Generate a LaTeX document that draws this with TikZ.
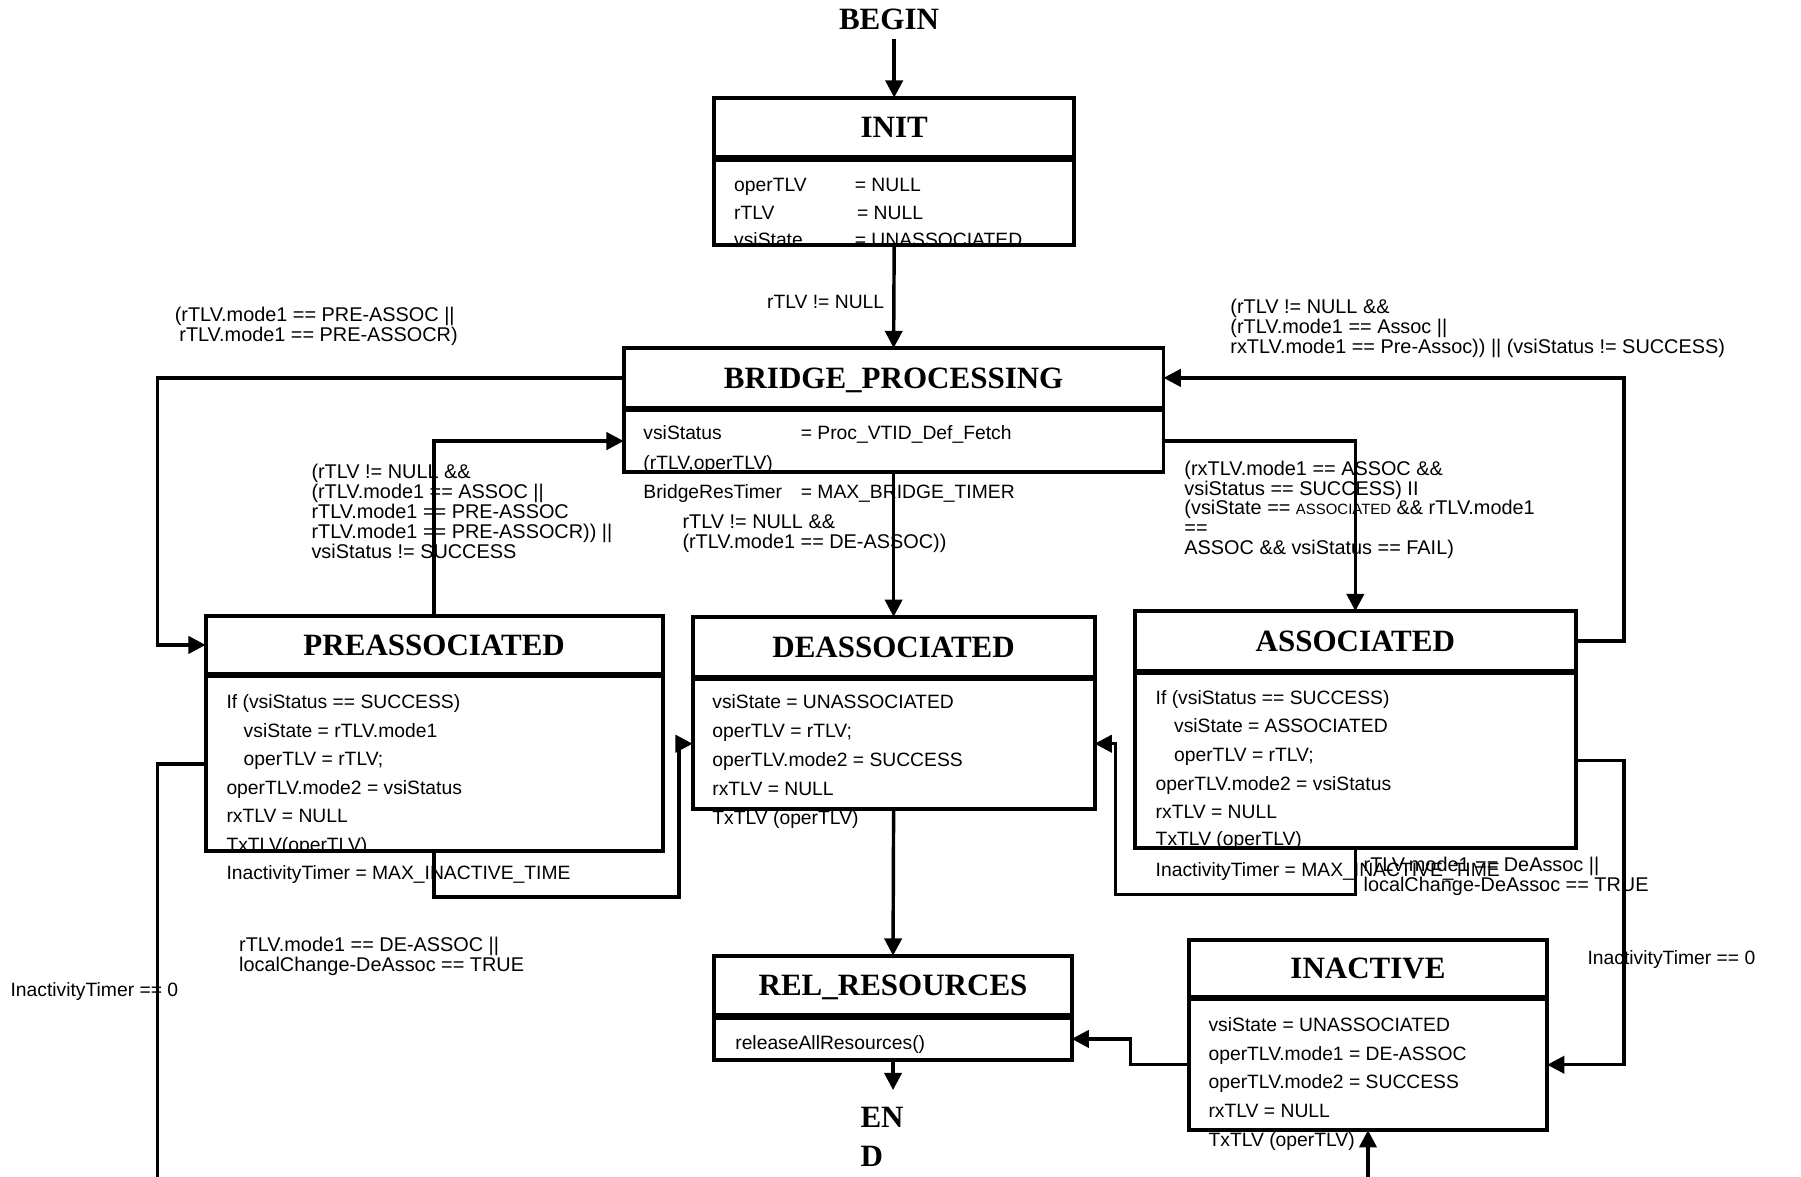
\documentclass[tikz,border=0pt]{standalone}
\usepackage{fontspec}
\setmainfont{Liberation Sans}
\newfontfamily\titfont{Liberation Serif}
\usetikzlibrary{arrows.meta}

\tikzset{
  caja/.style={draw, line width=3.4pt, inner sep=0pt, outer sep=0pt, anchor=north west},
  titulo/.style={caja, font=\titfont\bfseries\fontsize{27}{30}\selectfont, text height=18pt, text depth=0pt},
  txt/.style={anchor=base west, inner sep=0pt, font=\fontsize{16.8}{17.3}\selectfont},
  etiq/.style={anchor=north west, inner sep=0pt, align=left, font=\fontsize{17.3}{17.3}\selectfont},
  flecha/.style={line width=3pt, -{Triangle[length=15pt,width=15pt]}},
}

\begin{document}
\begin{tikzpicture}[x=1pt, y=-1pt]
  \useasboundingbox (0,0) rectangle (1568,1024);
  \clip (0,0) rectangle (1568,1024);

  % Inicio y fin
  \node[font=\titfont\bfseries\fontsize{27}{30}\selectfont, inner xsep=0pt, inner ysep=8pt, text height=18pt, text depth=0pt] (begin) at (774,17) {BEGIN};
  \node[font=\titfont\bfseries\fontsize{27}{34}\selectfont, inner xsep=0pt, inner ysep=15pt, anchor=north west, align=left] (end) at (749,949) {EN\\D};

  % INIT
  \node[titulo, minimum width=313pt, minimum height=52pt] (init-t) at (622,85) {INIT};
  \node[caja, minimum width=313pt, minimum height=74pt] (init-b) at (622,139) {};
  \node[txt] (init-r1) at (639,167) {operTLV};
  \node[txt] (init-v1) at (744,167) {= NULL};
  \node[txt] (init-r2) at (639,191) {rTLV};
  \node[txt] (init-v2) at (746,191) {= NULL};
  \begin{scope}
    \clip (init-b.north west) rectangle (init-b.south east);
    \node[txt] (init-r3) at (639,215) {vsiState};
    \node[txt] (init-v3) at (744,215) {= UNASSOCIATED};
  \end{scope}

  % BRIDGE_PROCESSING
  \node[titulo, minimum width=470pt, minimum height=52pt] (bp-t) at (543,303) {BRIDGE\_PROCESSING};
  \node[caja, minimum width=470pt, minimum height=54pt] (bp-b) at (543,357) {};
  \node[txt] (bp-r1) at (560,383) {vsiStatus};
  \node[txt] (bp-v1) at (697,383) {= Proc\_VTID\_Def\_Fetch};
  \node[txt] (bp-r2) at (560,409) {(rTLV,operTLV)};
  \node[txt] (bp-r3) at (560,434) {BridgeResTimer};
  \node[txt] (bp-v3) at (697,434) {= MAX\_BRIDGE\_TIMER};

  % PREASSOCIATED
  \node[titulo, minimum width=398pt, minimum height=51pt] (pre-t) at (179,536) {PREASSOCIATED};
  \node[caja, minimum width=398pt, minimum height=152pt] (pre-b) at (179,589) {};
  \foreach \t [count=\i from 0] in {If (vsiStatus == SUCCESS), \hspace*{15pt}vsiState = rTLV.mode1, \hspace*{15pt}operTLV = rTLV;, operTLV.mode2 = vsiStatus, rxTLV = NULL}
    \node[txt] (pre-r\i) at (197,617+24.8*\i) {\t};
  \begin{scope}
    \clip (pre-b.north west) rectangle (pre-b.south east);
    \node[txt] (pre-r5) at (197,741) {TxTLV(operTLV)};
  \end{scope}
  \node[txt] (pre-r6) at (197,766) {InactivityTimer = MAX\_INACTIVE\_TIME};

  % DEASSOCIATED
  \node[titulo, minimum width=350pt, minimum height=52pt] (de-t) at (603,537) {DEASSOCIATED};
  \node[caja, minimum width=350pt, minimum height=113pt] (de-b) at (603,591) {};
  \foreach \t [count=\i from 0] in {vsiState = UNASSOCIATED, operTLV = rTLV;, operTLV.mode2 = SUCCESS, rxTLV = NULL, TxTLV (operTLV)}
    \node[txt] (de-r\i) at (620,617+25.2*\i) {\t};

  % ASSOCIATED
  \node[titulo, minimum width=384pt, minimum height=52pt] (as-t) at (988,532) {ASSOCIATED};
  \node[caja, minimum width=384pt, minimum height=152pt] (as-b) at (988,586) {};
  \foreach \t [count=\i from 0] in {If (vsiStatus == SUCCESS), \hspace*{16pt}vsiState = ASSOCIATED, \hspace*{16pt}operTLV = rTLV;, operTLV.mode2 = vsiStatus, rxTLV = NULL}
    \node[txt] (as-r\i) at (1006,613+25*\i) {\t};
  \begin{scope}
    \clip (as-b.north west) rectangle (as-b.south east);
    \node[txt] (as-r5) at (1006,736) {TxTLV (operTLV)};
  \end{scope}
  \node[txt] (as-r6) at (1006,763) {InactivityTimer = MAX\_INACTIVE\_TIME};

  % REL_RESOURCES
  \node[titulo, minimum width=311pt, minimum height=52pt] (rel-t) at (622,832) {REL\_RESOURCES};
  \node[caja, minimum width=311pt, minimum height=37pt] (rel-b) at (622,886) {};
  \node[txt] (rel-r0) at (640,914) {releaseAllResources()};

  % INACTIVE
  \node[titulo, minimum width=312pt, minimum height=50pt] (in-t) at (1035,818) {INACTIVE};
  \node[caja, minimum width=312pt, minimum height=114pt] (in-b) at (1035,870) {};
  \foreach \t [count=\i from 0] in {vsiState = UNASSOCIATED, operTLV.mode1 = DE-ASSOC, operTLV.mode2 = SUCCESS, rxTLV = NULL, TxTLV (operTLV)}
    \node[txt] (in-r\i) at (1052,898+25*\i) {\t};

  % Transiciones
  \draw[flecha] (begin.south -| init-t.north) -- (init-t.north);
  \draw[flecha] (init-b.south) -- (bp-t.north);
  \draw[flecha] (bp-t.west) -| ([xshift=-42pt]pre-t.west) -- (pre-t.west);
  \draw[flecha] (pre-t.north) |- (bp-b.west);
  \draw[flecha] (bp-b.east) -| (as-t.north);
  \draw[flecha] (as-t.east) -- ++(42,0) |- (bp-t.east);
  \draw[flecha] (bp-b.south) -- (de-t.north);
  \draw[flecha] (pre-b.south) -- ++(0,40) -| ([xshift=-12pt]de-b.west) -- (de-b.west);
  \draw[flecha] (as-b.south) -- ++(0,41) -| ([xshift=18pt]de-b.east) -- (de-b.east);
  \draw[flecha] (de-b.south) -- (rel-t.north);
  \draw[flecha] (rel-b.south) -- (end.north -| rel-b.south);
  \draw[flecha] (as-b.east) -- ++(42,0) |- (in-b.east);
  \draw[flecha] (in-b.west) -- ++(-51,0) |- (rel-b.east);
  \draw[flecha] (pre-b.west) -| (137,1060) -| (in-b.south);

  % Condiciones
  \node[etiq] (l-bp-pre) at (152,267) {(rTLV.mode1 == PRE-ASSOC ||\\\hspace*{4pt}rTLV.mode1 == PRE-ASSOCR)};
  \node[etiq] (l-pre-bp) at (271,404) {(rTLV != NULL \&\&\\(rTLV.mode1 == ASSOC ||\\rTLV.mode1 == PRE-ASSOC\\rTLV.mode1 == PRE-ASSOCR)) ||\\vsiStatus != SUCCESS};
  \node[txt, anchor=base east] (l-init-bp) at (770,269) {rTLV != NULL};
  \node[etiq] (l-as-bp) at (1071,260) {(rTLV != NULL \&\&\\(rTLV.mode1 == Assoc ||\\rxTLV.mode1 == Pre-Assoc)) || (vsiStatus != SUCCESS)};
  \node[etiq] (l-bp-as) at (1031,401) {(rxTLV.mode1 == ASSOC \&\&\\vsiStatus == SUCCESS) II\\(vsiState == {\fontsize{13}{17.3}\selectfont ASSOCIATED} \&\& rTLV.mode1\\==\\ASSOC \&\& vsiStatus == FAIL)};
  \node[etiq] (l-bp-de) at (594,448) {rTLV != NULL \&\&\\(rTLV.mode1 == DE-ASSOC))};
  \node[etiq] (l-pre-de) at (208,816) {rTLV.mode1 == DE-ASSOC ||\\localChange-DeAssoc == TRUE};
  \node[etiq] (l-as-de) at (1187,746) {rTLV.mode1 == DeAssoc ||\\localChange-DeAssoc == TRUE};
  \node[txt] (l-as-in) at (1382,840) {InactivityTimer == 0};
  \node[txt] (l-pre-in) at (9,868) {InactivityTimer == 0};
\end{tikzpicture}
\end{document}
